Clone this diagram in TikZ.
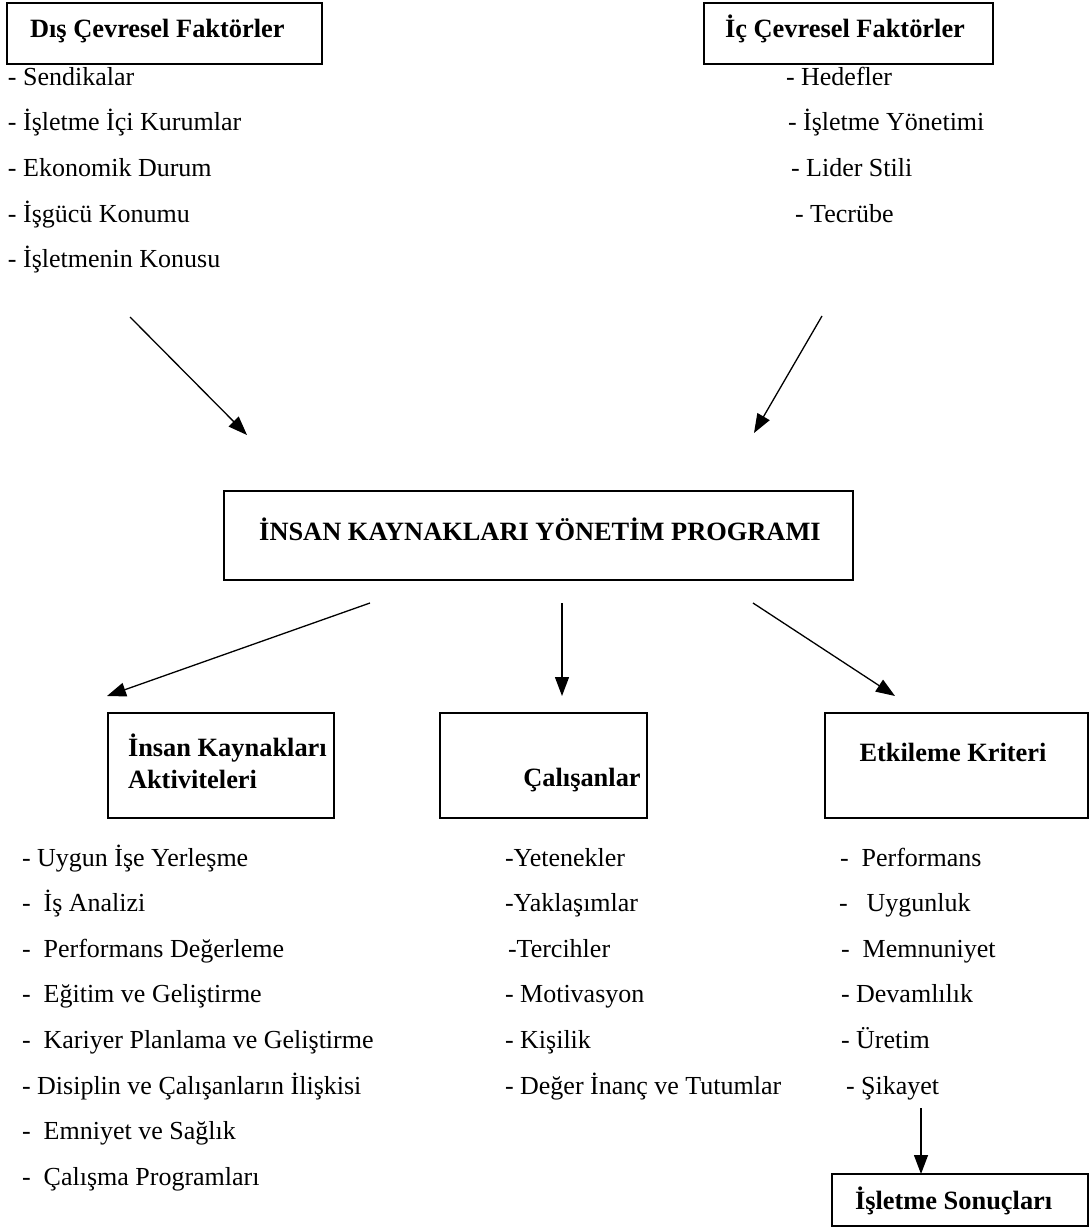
\documentclass[tikz,border=0pt]{standalone}
\usepackage{fontspec}
\setmainfont{Liberation Serif}
\usetikzlibrary{arrows.meta}
\begin{document}
\begin{tikzpicture}[x=1pt,y=-1pt,
  every node/.style={font=\fontsize{26}{31}\selectfont, inner sep=0pt, outer sep=0pt},
  frame/.style={draw, line width=1.6pt, anchor=north west},
  head/.style={anchor=base west, font=\fontsize{26.4}{31}\selectfont\bfseries},
  headc/.style={anchor=base, font=\fontsize{26.4}{31}\selectfont\bfseries},
  item/.style={anchor=base west},
  link/.style={line width=1.3pt, -{Triangle[length=19pt,width=14pt]}}]
\useasboundingbox (0,0) rectangle (1090,1228);

% ---- environmental factors (top) ----
\node[frame, minimum width=315, minimum height=61] (dis) at (7,3) {};
\node[head] (distitle) at (30,38) {Dış Çevresel Faktörler};
\node[frame, minimum width=289, minimum height=61] (ic) at (704,3) {};
\node[head] (ictitle) at (725,38) {İç Çevresel Faktörler};

\node[item] (d1) at (8,85.5) {- Sendikalar};
\node[item] (d2) at (8,131) {- İşletme İçi Kurumlar};
\node[item] (d3) at (8,176.5) {- Ekonomik Durum};
\node[item] (d4) at (8,222) {- İşgücü Konumu};
\node[item] (d5) at (8,267.5) {- İşletmenin Konusu};

\node[item] (i1) at (786,85.5) {- Hedefler};
\node[item] (i2) at (788,131) {- İşletme Yönetimi};
\node[item] (i3) at (791,176.5) {- Lider Stili};
\node[item] (i4) at (795,222) {- Tecrübe};

\coordinate (lfrom) at (130,317);
\coordinate (lto) at (247,435);
\coordinate (rfrom) at (822,316);
\coordinate (rto) at (754,433);
\draw[link] (lfrom) -- (lto);
\draw[link] (rfrom) -- (rto);

% ---- central programme ----
\node[frame, minimum width=629, minimum height=89] (prog) at (224,491) {};
\node[headc] (progtitle) at (540,540) {İNSAN KAYNAKLARI YÖNETİM PROGRAMI};

\coordinate (a1) at (370,603);
\coordinate (a2) at (562,603);
\coordinate (a3) at (753,603);
\coordinate (b1) at (107,696);
\coordinate (b2) at (562,696);
\coordinate (b3) at (895,696);
\draw[link] (a1) -- (b1);
\draw[link] (a2) -- (b2);
\draw[link] (a3) -- (b3);

% ---- three branches ----
\node[frame, minimum width=226, minimum height=105] (ika) at (108,713) {};
\node[head] (ikat1) at (128,756) {İnsan Kaynakları};
\node[head] (ikat2) at (128,788) {Aktiviteleri};
\node[frame, minimum width=207, minimum height=105] (cal) at (440,713) {};
\node[headc] (calt) at (582,786) {Çalışanlar};
\node[frame, minimum width=263, minimum height=105] (etk) at (825,713) {};
\node[headc] (etkt) at (953,761) {Etkileme Kriteri};

\node[item] (k1) at (22,866) {- Uygun İşe Yerleşme};
\node[item] (k2) at (22,911.6) {-\hspace{13pt}İş Analizi};
\node[item] (k3) at (22,957.2) {-\hspace{13pt}Performans Değerleme};
\node[item] (k4) at (22,1002.8) {-\hspace{13pt}Eğitim ve Geliştirme};
\node[item] (k5) at (22,1048.4) {-\hspace{13pt}Kariyer Planlama ve Geliştirme};
\node[item] (k6) at (22,1094) {- Disiplin ve Çalışanların İlişkisi};
\node[item] (k7) at (22,1139.6) {-\hspace{13pt}Emniyet ve Sağlık};
\node[item] (k8) at (22,1185.2) {-\hspace{13pt}Çalışma Programları};

\node[item] (c1) at (505,866) {-Yetenekler};
\node[item] (c2) at (505,911.6) {-Yaklaşımlar};
\node[item] (c3) at (508,957.2) {-Tercihler};
\node[item] (c4) at (505,1002.8) {- Motivasyon};
\node[item] (c5) at (505,1048.4) {- Kişilik};
\node[item] (c6) at (505,1094) {- Değer İnanç ve Tutumlar};

\node[item] (e1) at (840,866) {-\hspace{13pt}Performans};
\node[item] (e2) at (839,911.6) {-\hspace{19pt}Uygunluk};
\node[item] (e3) at (841,957.2) {-\hspace{13pt}Memnuniyet};
\node[item] (e4) at (841,1002.8) {- Devamlılık};
\node[item] (e5) at (841,1048.4) {- Üretim};
\node[item] (e6) at (846,1094) {- Şikayet};

% ---- business results ----
\node[frame, minimum width=256, minimum height=52] (son) at (832,1174) {};
\node[head] (sont) at (855,1209) {İşletme Sonuçları};
\coordinate (sfrom) at (921,1108);
\draw[link] (sfrom) -- (sfrom |- son.north);
\end{tikzpicture}
\end{document}
